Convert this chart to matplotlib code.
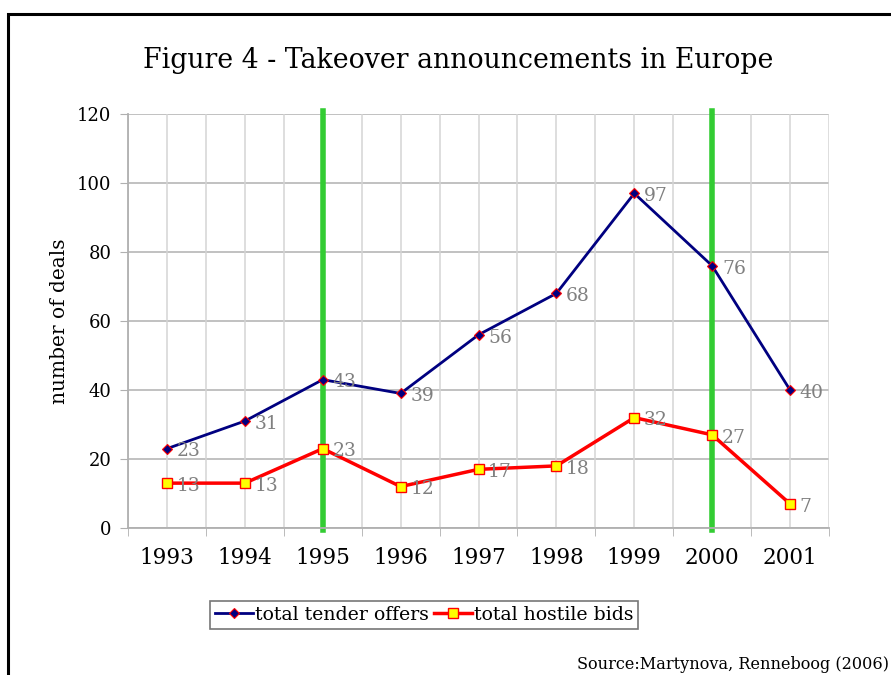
import matplotlib
matplotlib.use("Agg")
from matplotlib import pyplot as plt
from matplotlib.patches import Rectangle
import numpy as np

years = ["1993", "1994", "1995", "1996", "1997", "1998", "1999", "2000", "2001"]
tender = [23, 31, 43, 39, 56, 68, 97, 76, 40]
hostile = [13, 13, 23, 12, 17, 18, 32, 27, 7]
marked_years = ["1995", "2000"]

plt.rcParams['font.family'] = ['DejaVu Serif']

fig = plt.figure(figsize=(8.91, 6.75), dpi=100)
ax = fig.add_axes([0.1437, 0.2178, 0.7867, 0.6133])

x = np.arange(len(years))

# outer frame of the figure
fig.patches.append(Rectangle((0.009, -0.1), 1.2, 1.08, transform=fig.transFigure,
                             fill=False, edgecolor='black', linewidth=2.2, zorder=0))

ax.set_xlim(-0.5, len(years) - 0.5)
ax.set_ylim(0, 120)
ax.set_yticks(range(0, 121, 20))

# grid: horizontal at each tick, vertical at centers and boundaries
for v in range(0, 121, 20):
    ax.axhline(v, color='#b0b0b0', linewidth=1.1, zorder=0)
for v in np.arange(-0.5, len(years), 0.5):
    ax.axvline(v, color='#d4d4d4', linewidth=1.1, zorder=0)

ax.plot(x, tender, color='#000080', linewidth=2, marker='D', markersize=5.5,
        markerfacecolor='#000080', markeredgecolor='red', markeredgewidth=0.8,
        label='total tender offers', zorder=3)
ax.plot(x, hostile, color='red', linewidth=2.5, marker='s', markersize=7.5,
        markerfacecolor='yellow', markeredgecolor='red', markeredgewidth=1,
        label='total hostile bids', zorder=3)

for i, v in enumerate(tender):
    ax.annotate(str(v), (x[i], v), xytext=(7, -2), textcoords='offset points',
                color='#808080', fontsize=13.5, va='center', zorder=4)
for i, v in enumerate(hostile):
    ax.annotate(str(v), (x[i], v), xytext=(7, -2), textcoords='offset points',
                color='#808080', fontsize=13.5, va='center', zorder=4)

for yr in marked_years:
    ax.plot([years.index(yr)] * 2, [-0.6, 121], color='#33cc33', linewidth=4,
            zorder=2, clip_on=False)

ax.set_xticks(x)
ax.set_xticklabels(years)
ax.set_xticks(np.arange(-0.5, len(years), 1), minor=True)
ax.tick_params(axis='x', which='major', length=0, pad=14, labelsize=15.5)
ax.tick_params(axis='x', which='minor', length=6, color='#b0b0b0')
ax.tick_params(axis='y', length=6, color='#b0b0b0', labelsize=13, pad=6)

for s in ['top', 'right']:
    ax.spines[s].set_visible(False)
for s in ['left', 'bottom']:
    ax.spines[s].set_color('#b0b0b0')
    ax.spines[s].set_linewidth(1.3)

ax.set_ylabel('number of deals', fontsize=14.5, labelpad=6)

fig.text(0.514, 0.911, 'Figure 4 - Takeover announcements in Europe',
         ha='center', va='center', fontsize=19.3)

leg = fig.legend(loc='center', bbox_to_anchor=(0.476, 0.089), ncol=2,
                 fontsize=13.6, frameon=True, fancybox=False, handlelength=2.0,
                 handletextpad=0.1, columnspacing=0.3, borderpad=0.25,
                 borderaxespad=0)
leg.get_frame().set_edgecolor('#555555')
leg.get_frame().set_linewidth(1.2)

fig.text(0.998, 0.016, 'Source:Martynova, Renneboog (2006)', ha='right',
         va='center', fontsize=11.6)

fig.savefig('out.png', dpi=100)
